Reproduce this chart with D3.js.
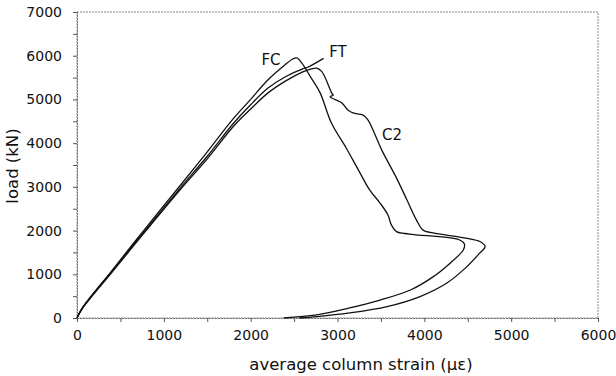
<!DOCTYPE html>
<html>
<head>
<meta charset="utf-8">
<script src="https://cdn.jsdelivr.net/npm/d3@7"></script>
<style>
  body { margin: 0; background: #fff; }
  text { font-family: "DejaVu Sans", sans-serif; fill: #111; }
</style>
</head>
<body>
<div id="chart"></div>
<script>
// load-strain curves, [strain (µε), load (kN)]
var fcData = [[0, 0], [60, 230], [400, 1080], [800, 2080], [1200, 3060], [1500, 3800], [1800, 4560], [2000, 5000],
  [2200, 5450], [2400, 5800], [2480, 5920], [2530, 5950], [2590, 5830], [2700, 5480], [2800, 5150], [2930, 4460],
  [3100, 3890], [3240, 3390], [3370, 2930], [3490, 2630], [3580, 2360], [3620, 2130], [3680, 1975], [3830, 1920],
  [4400, 1790], [4460, 1700], [4450, 1560], [4300, 1260], [4100, 940], [3840, 640], [3490, 410], [3140, 230],
  [2760, 70], [2380, 0]];
var ftData = [[0, 0], [60, 220], [400, 1060], [800, 2040], [1200, 3000], [1500, 3700], [1800, 4450], [2000, 4880],
  [2200, 5260], [2400, 5520], [2600, 5700], [2650, 5730], [2840, 5940]];
var c2Data = [[0, 0], [60, 210], [400, 1040], [800, 2010], [1200, 2960], [1500, 3640], [1800, 4380], [2000, 4780],
  [2200, 5150], [2400, 5420], [2600, 5630], [2700, 5700], [2760, 5715], [2820, 5635], [2935, 5140], [2950, 5100],
  [2915, 5060], [3050, 4920], [3120, 4760], [3180, 4690], [3290, 4645], [3350, 4530], [3510, 3840], [3680, 3200],
  [3800, 2700], [3910, 2240], [3985, 2010], [4100, 1945], [4640, 1750], [4700, 1630], [4640, 1490], [4490, 1175],
  [4260, 800], [3950, 490], [3570, 260], [3140, 115], [2760, 30], [2560, 0]];

var curveLabels = [
  { name: 'FC', x: 2234, y: 5790 },
  { name: 'FT', x: 3005, y: 5970 },
  { name: 'C2', x: 3628, y: 4075 }
];
var xTicks = [0, 1000, 2000, 3000, 4000, 5000, 6000];
var yTicks = [0, 1000, 2000, 3000, 4000, 5000, 6000, 7000];

var width = 616, height = 376;
var margin = { left: 77, right: 18, top: 12, bottom: 58 };

var svg = d3.select('#chart').append('svg')
  .attr('width', width)
  .attr('height', height);

var xScale = d3.scaleLinear()
  .domain([0, 6000])
  .range([margin.left, width - margin.right]);
var yScale = d3.scaleLinear()
  .domain([0, 7000])
  .range([height - margin.bottom, margin.top]);

// frame
svg.append('rect')
  .attr('x', xScale(0))
  .attr('y', yScale(7000))
  .attr('width', xScale(6000) - xScale(0))
  .attr('height', yScale(0) - yScale(7000))
  .attr('fill', 'none')
  .attr('stroke', '#888')
  .attr('stroke-dasharray', '2,1');

// axes
var xAxis = svg.append('g')
  .attr('transform', 'translate(0,' + yScale(0) + ')')
  .call(d3.axisBottom(xScale).tickValues(d3.range(0, 6001, 500)).tickSize(4)
    .tickFormat(d => xTicks.indexOf(d) > -1 ? d : ''));
xAxis.select('.domain').attr('stroke', '#777').attr('stroke-dasharray', '2,1');
xAxis.selectAll('.tick line').attr('stroke', '#555');
xAxis.selectAll('.tick text').attr('dy', '1.1em').style('font-size', '14px')
  .style('font-family', '"DejaVu Sans", sans-serif').attr('fill', '#111');

var yAxis = svg.append('g')
  .attr('transform', 'translate(' + xScale(0) + ',0)')
  .call(d3.axisLeft(yScale).tickValues(d3.range(0, 7001, 500)).tickSize(4).tickPadding(11)
    .tickFormat(d => yTicks.indexOf(d) > -1 ? d : ''));
yAxis.select('.domain').attr('stroke', '#777').attr('stroke-dasharray', '2,1');
yAxis.selectAll('.tick line').attr('stroke', '#555');
yAxis.selectAll('.tick text').style('font-size', '14px')
  .style('font-family', '"DejaVu Sans", sans-serif').attr('fill', '#111');

// axis titles
svg.append('text')
  .attr('x', 361)
  .attr('y', 370)
  .attr('text-anchor', 'middle')
  .style('font-size', '16.5px')
  .text('average column strain (µε)');
svg.append('text')
  .attr('transform', 'translate(18,166) rotate(-90)')
  .attr('text-anchor', 'middle')
  .style('font-size', '16.5px')
  .text('load (kN)');

// curves
var line = d3.line()
  .x(d => xScale(d[0]))
  .y(d => yScale(d[1]))
  .curve(d3.curveCatmullRom.alpha(0.5));

[fcData, ftData, c2Data].forEach(d => {
  svg.append('path')
    .datum(d)
    .attr('d', line)
    .attr('fill', 'none')
    .attr('stroke', '#111')
    .attr('stroke-width', 1.3)
    .attr('stroke-linejoin', 'round');
});

svg.selectAll('.clabel')
  .data(curveLabels)
  .enter()
  .append('text')
  .attr('class', 'clabel')
  .attr('x', d => xScale(d.x))
  .attr('y', d => yScale(d.y))
  .attr('text-anchor', 'middle')
  .style('font-size', '15px')
  .text(d => d.name);
</script>
</body>
</html>
